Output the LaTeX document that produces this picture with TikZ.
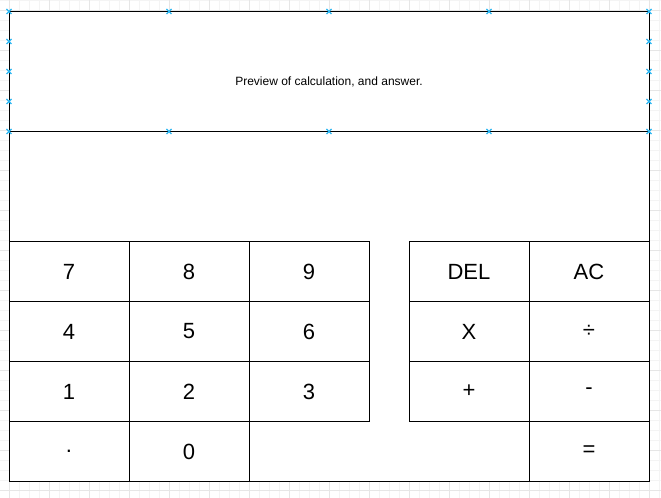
\documentclass[tikz,border=0pt]{standalone}
\usepackage{fontspec}
\setmainfont{Liberation Sans}
\usetikzlibrary{positioning}
\definecolor{handleblue}{RGB}{41,182,242}
\definecolor{gridminor}{RGB}{244,244,244}
\definecolor{gridmajor}{RGB}{230,230,230}

\tikzset{
  panel/.style={draw=black, line width=0.75pt, fill=white, outer sep=0pt, inner sep=0pt},
  key/.style={panel, minimum width=90pt, minimum height=45pt, font=\fontsize{16.5}{20}\selectfont},
  handle/.style={draw=handleblue, line width=0.9pt},
}

\begin{document}
\begin{tikzpicture}[x=0.75pt, y=-0.75pt]
   \useasboundingbox (0,0) rectangle (661,498);
   % background grid
   \foreach \gx in {-1,9,...,661} \draw[gridminor, line width=0.75pt] (\gx,0) -- (\gx,498);
   \foreach \gy in {1,11,...,498} \draw[gridminor, line width=0.75pt] (0,\gy) -- (661,\gy);
   \foreach \gx in {9,49,...,661} \draw[gridmajor, line width=0.75pt] (\gx,0) -- (\gx,498);
   \foreach \gy in {11,51,...,498} \draw[gridmajor, line width=0.75pt] (0,\gy) -- (661,\gy);

   % display and body
   \node[panel, minimum width=480pt, minimum height=90pt] (preview) at (329,71.5) {};
   \node[font=\fontsize{9}{11}\selectfont] (previewtext) at ([yshift=-8pt]preview.center) {Preview of calculation, and answer.};
   \node[panel, minimum width=480pt, minimum height=262.5pt, below=0pt of preview] (body) {};

   % number keys
   \node[key, anchor=south west] (kdot) at (body.south west) {.};
   \node[key, right=0pt of kdot] (k0) {0};
   \node[key, above=0pt of kdot] (k1) {1};
   \node[key, right=0pt of k1] (k2) {2};
   \node[key, right=0pt of k2] (k3) {3};
   \node[key, above=0pt of k1] (k4) {4};
   \node[key, right=0pt of k4] (k5) {5};
   \node[key, right=0pt of k5] (k6) {6};
   \node[key, above=0pt of k4] (k7) {7};
   \node[key, right=0pt of k7] (k8) {8};
   \node[key, right=0pt of k8] (k9) {9};

   % operator keys
   \node[key, anchor=south east] (keq) at (body.south east) {=};
   \node[key, above=0pt of keq] (kminus) {-};
   \node[key, left=0pt of kminus] (kplus) {+};
   \node[key, above=0pt of kminus] (kdiv) {÷};
   \node[key, left=0pt of kdiv] (kx) {X};
   \node[key, above=0pt of kdiv] (kac) {AC};
   \node[key, left=0pt of kac] (kdel) {DEL};

   % selection handles
   \foreach \t in {0,0.25,0.5,0.75,1} {
      \path (preview.north west) -- (preview.north east) coordinate[pos=\t] (htop);
      \path (preview.south west) -- (preview.south east) coordinate[pos=\t] (hbot);
      \draw[handle] (htop) +(-2.5,-2.5) -- +(2.5,2.5) (htop) +(-2.5,2.5) -- +(2.5,-2.5);
      \draw[handle] (hbot) +(-2.5,-2.5) -- +(2.5,2.5) (hbot) +(-2.5,2.5) -- +(2.5,-2.5);
   }
   \foreach \t in {0.25,0.5,0.75} {
      \path (preview.north west) -- (preview.south west) coordinate[pos=\t] (hleft);
      \path (preview.north east) -- (preview.south east) coordinate[pos=\t] (hright);
      \draw[handle] (hleft) +(-2.5,-2.5) -- +(2.5,2.5) (hleft) +(-2.5,2.5) -- +(2.5,-2.5);
      \draw[handle] (hright) +(-2.5,-2.5) -- +(2.5,2.5) (hright) +(-2.5,2.5) -- +(2.5,-2.5);
   }
\end{tikzpicture}
\end{document}
